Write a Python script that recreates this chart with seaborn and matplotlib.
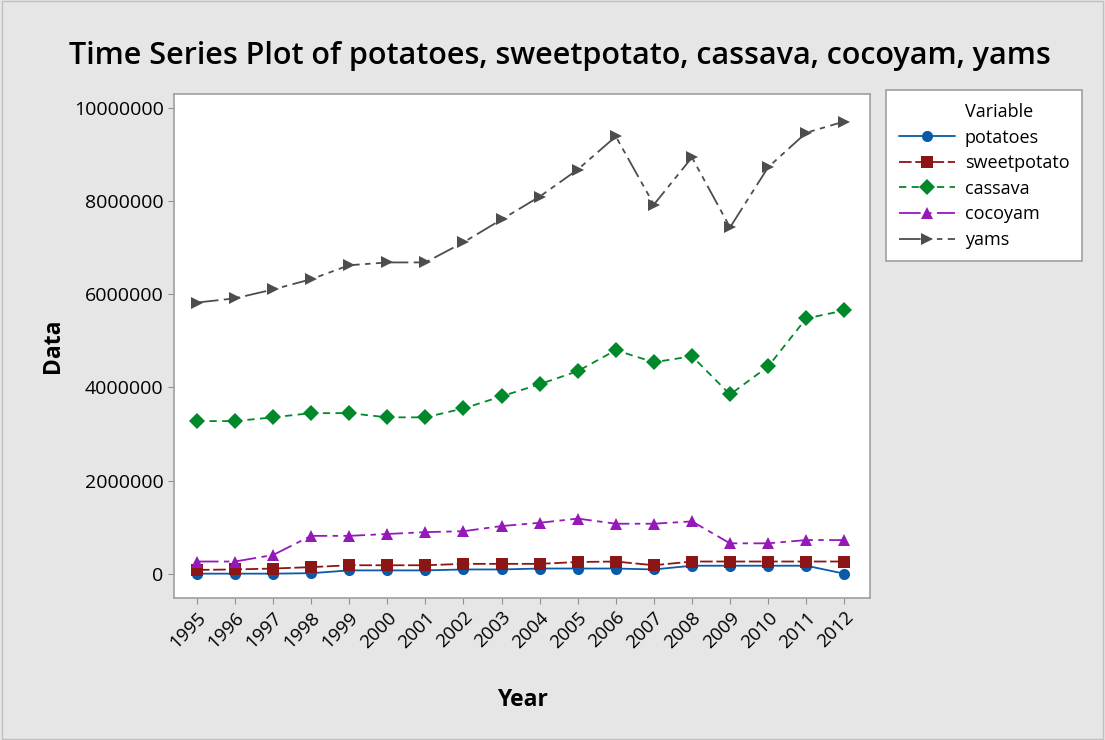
import pandas as pd
import numpy as np
import matplotlib.pyplot as plt
import seaborn as sns
from matplotlib.lines import Line2D

years = list(range(1995, 2013))
potatoes = [10000, 10000, 10000, 20000, 80000, 80000, 80000, 100000, 100000, 120000,
            120000, 120000, 100000, 180000, 180000, 180000, 180000, 10000]
sweetpotato = [90000, 100000, 120000, 150000, 190000, 190000, 190000, 220000, 220000, 220000,
               260000, 270000, 190000, 270000, 270000, 270000, 270000, 270000]
cassava = [3280000, 3280000, 3360000, 3450000, 3450000, 3360000, 3360000, 3550000, 3810000, 4070000,
           4350000, 4800000, 4540000, 4670000, 3850000, 4450000, 5480000, 5650000]
cocoyam = [270000, 270000, 410000, 820000, 820000, 860000, 900000, 920000, 1030000, 1100000,
           1190000, 1080000, 1080000, 1130000, 660000, 660000, 730000, 730000]
yams = [5820000, 5910000, 6100000, 6320000, 6620000, 6680000, 6680000, 7110000, 7600000, 8090000,
        8670000, 9380000, 7920000, 8930000, 7430000, 8720000, 9460000, 9700000]

names = ['potatoes', 'sweetpotato', 'cassava', 'cocoyam', 'yams']
data = pd.DataFrame({'Year': years, 'potatoes': potatoes, 'sweetpotato': sweetpotato,
                     'cassava': cassava, 'cocoyam': cocoyam, 'yams': yams})
long = data.melt(id_vars='Year', var_name='Variable', value_name='Data')

colors = {'potatoes': '#0a5aa8', 'sweetpotato': '#8c1515', 'cassava': '#00892a',
          'cocoyam': '#9519b8', 'yams': '#4d4d4d'}
markers = {'potatoes': 'o', 'sweetpotato': 's', 'cassava': 'D', 'cocoyam': '^', 'yams': '>'}
dashes = {'potatoes': '', 'sweetpotato': (7, 2), 'cassava': (4, 3),
          'cocoyam': (12, 3, 3, 3), 'yams': (12, 3, 3, 3, 3, 3)}

sns.set_style('white')
plt.rcParams['font.family'] = ['Open Sans', 'DejaVu Sans']
plt.rcParams['text.color'] = 'black'
plt.rcParams['axes.labelcolor'] = 'black'
plt.rcParams['xtick.color'] = 'black'
plt.rcParams['ytick.color'] = 'black'

fig = plt.figure(figsize=(11.05, 7.4), dpi=100, facecolor='#e6e6e6')
ax = fig.add_axes([0.1575, 0.192, 0.63, 0.681])
ax.set_facecolor('white')

sns.lineplot(data=long, x='Year', y='Data', hue='Variable', style='Variable',
             palette=colors, markers=markers, dashes=dashes, markersize=8,
             linewidth=1.3, markeredgewidth=0, ax=ax)

ax.set_xlim(1994.4, 2012.68)
ax.set_ylim(-510000, 10290000)
ax.set_xticks(years)
ax.set_xticklabels([str(y) for y in years], rotation=45, ha='right', rotation_mode='anchor',
                   fontsize=13.5)
ax.set_yticks([0, 2000000, 4000000, 6000000, 8000000, 10000000])
ax.set_yticklabels(['0', '2000000', '4000000', '6000000', '8000000', '10000000'], fontsize=14)
ax.tick_params(axis='both', length=4, color='#909090', direction='out', bottom=True, left=True)
for s in ax.spines.values():
    s.set_color('#a0a0a0')
    s.set_linewidth(1.2)

ax.set_xlabel('Year', fontsize=16.5, fontweight='bold', labelpad=26)
ax.set_ylabel('Data', fontsize=16.5, fontweight='bold', labelpad=6)
fig.suptitle('Time Series Plot of potatoes, sweetpotato, cassava, cocoyam, yams',
             fontsize=22, fontweight='semibold', x=0.507, y=0.945)

handles, labels = ax.get_legend_handles_labels()
ax.get_legend().remove()
title_handle = Line2D([], [], linestyle='none', marker='none')
leg = fig.legend([title_handle] + handles, ['Variable'] + labels, loc='upper left',
                 bbox_to_anchor=(0.802, 0.878), fontsize=13,
                 frameon=True, fancybox=False, edgecolor='#a0a0a0', facecolor='white',
                 framealpha=1, handlelength=3.1, handletextpad=0.55,
                 borderpad=0.7, labelspacing=0.42, borderaxespad=0)
leg.get_frame().set_linewidth(1.2)

border = plt.Rectangle((0.002, 0.002), 0.996, 0.996, transform=fig.transFigure,
                       fill=False, edgecolor='#c0c0c0', linewidth=1)
fig.patches.append(border)

fig.savefig('out.png', dpi=100, facecolor=fig.get_facecolor())
